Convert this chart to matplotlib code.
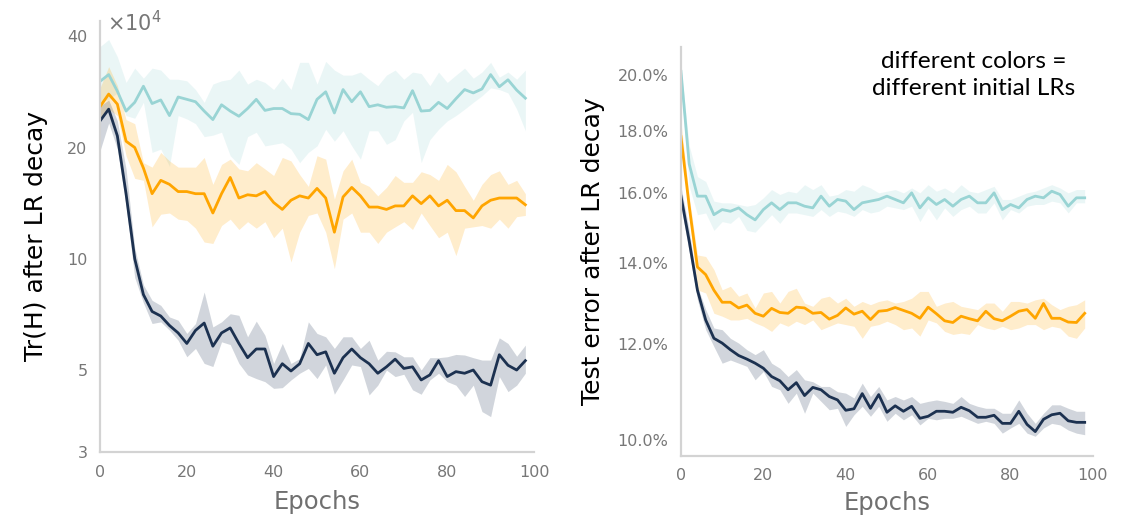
import numpy as np
import matplotlib
matplotlib.use("Agg")
import matplotlib.pyplot as plt
from matplotlib.ticker import FixedLocator, NullLocator

epochs = list(range(0, 100, 2))

# left panel: Tr(H) after LR decay (x1e4)
tr_cyan = [30.2, 31.5, 28.4, 25.1, 26.5, 29.3, 26.3, 26.9, 24.4, 27.4,
           27.0, 26.6, 25.1, 23.8, 26.1, 25.1, 24.3, 25.5, 27.0, 25.2,
           25.5, 25.5, 24.7, 24.6, 23.8, 27.0, 28.3, 24.8, 28.7, 26.6,
           28.3, 25.8, 26.1, 25.7, 25.8, 25.6, 28.5, 25.1, 25.2, 26.5,
           25.5, 27.1, 28.7, 28.1, 28.8, 31.5, 29.2, 30.5, 28.6, 27.2]
tr_cyan_hi = [37.5, 39.2, 35.2, 30.0, 32.8, 30.8, 32.8, 32.4, 30.6, 30.6,
              30.3, 28.7, 26.5, 29.7, 30.3, 30.6, 32.4, 29.7, 30.6, 30.0,
              28.7, 30.8, 28.7, 34.0, 34.0, 29.7, 34.2, 32.4, 31.4, 31.4,
              32.0, 30.6, 29.4, 31.4, 32.4, 30.6, 32.0, 31.7, 29.4, 32.0,
              30.0, 31.4, 32.8, 30.8, 32.0, 34.0, 31.0, 32.0, 30.6, 32.4]
tr_cyan_lo = [26.5, 27.0, 28.1, 24.4, 24.0, 26.5, 19.4, 19.8, 17.8, 24.4,
              23.9, 23.2, 21.4, 21.6, 22.0, 19.0, 18.0, 21.4, 22.0, 20.2,
              20.4, 20.6, 19.8, 18.2, 19.4, 20.2, 22.4, 20.8, 22.2, 20.2,
              18.6, 22.2, 22.2, 20.4, 21.0, 23.6, 24.9, 18.2, 21.0, 22.4,
              23.6, 24.4, 25.4, 26.5, 27.6, 29.0, 28.7, 28.1, 25.4, 22.2]

tr_orange = [25.8, 27.9, 26.2, 20.8, 20.0, 17.6, 15.0, 16.3, 15.9, 15.2,
             15.2, 15.0, 15.0, 13.3, 15.0, 16.6, 14.6, 14.9, 14.8, 15.2,
             14.2, 13.6, 14.4, 14.8, 14.6, 15.5, 14.6, 11.8, 14.7, 15.6,
             14.8, 13.8, 13.8, 13.6, 13.9, 13.9, 14.8, 14.1, 14.8, 13.9,
             14.4, 13.5, 13.5, 12.9, 13.9, 14.4, 14.6, 14.6, 14.6, 14.0]
tr_orange_hi = [29.0, 33.1, 29.4, 23.8, 23.2, 18.2, 17.7, 19.4, 18.4, 17.7,
                17.7, 17.7, 18.8, 15.9, 18.0, 18.6, 17.5, 17.3, 18.2, 17.5,
                16.8, 18.8, 18.4, 16.9, 15.7, 19.0, 18.6, 14.5, 17.3, 18.6,
                16.1, 15.7, 14.8, 15.6, 16.8, 16.1, 16.1, 17.2, 16.9, 16.3,
                18.0, 17.2, 15.7, 14.4, 15.9, 16.9, 17.3, 15.9, 16.3, 15.0]
tr_orange_lo = [23.8, 25.4, 24.4, 19.0, 16.5, 16.3, 12.2, 13.2, 13.3, 12.8,
                12.7, 12.1, 11.1, 11.0, 12.3, 12.8, 12.0, 12.6, 12.1, 12.6,
                11.4, 12.1, 9.8, 11.8, 13.1, 13.3, 11.8, 9.4, 12.8, 13.3,
                11.8, 11.8, 11.0, 11.8, 12.2, 12.6, 12.0, 13.3, 12.3, 11.4,
                11.8, 10.2, 12.1, 12.2, 12.3, 12.1, 12.8, 12.1, 13.0, 13.1]

tr_navy = [23.6, 25.4, 21.5, 15.0, 10.0, 8.0, 7.2, 7.0, 6.6, 6.3,
           5.9, 6.4, 6.7, 5.8, 6.3, 6.5, 5.9, 5.4, 5.7, 5.7,
           4.8, 5.2, 4.97, 5.2, 5.9, 5.5, 5.6, 4.9, 5.4, 5.7,
           5.4, 5.2, 4.9, 5.1, 5.35, 5.05, 5.1, 4.7, 4.85, 5.3,
           4.8, 4.95, 4.9, 5.0, 4.65, 4.55, 5.5, 5.15, 5.0, 5.3]
tr_navy_hi = [25.9, 26.9, 23.6, 17.5, 10.7, 8.5, 7.72, 7.48, 6.96, 6.82,
              6.28, 6.68, 8.13, 6.54, 6.75, 7.10, 7.03, 6.15, 6.78, 6.21,
              5.21, 5.90, 5.21, 5.37, 6.75, 6.28, 6.15, 5.72, 6.15, 6.15,
              5.72, 6.02, 5.32, 5.62, 5.60, 5.43, 5.43, 5.00, 5.40, 5.40,
              5.43, 5.51, 5.49, 5.40, 5.32, 5.32, 6.11, 5.90, 5.45, 5.84]
tr_navy_lo = [19.6, 23.3, 19.8, 13.9, 8.9, 7.6, 6.68, 6.75, 6.41, 6.02,
              5.43, 5.72, 5.21, 5.11, 5.96, 5.86, 5.21, 4.85, 4.74, 4.65,
              4.46, 4.48, 4.70, 4.90, 5.05, 4.74, 5.16, 4.30, 4.70, 5.16,
              5.11, 4.28, 4.55, 5.00, 4.80, 4.87, 4.42, 4.30, 4.70, 4.90,
              4.65, 4.55, 4.24, 4.55, 3.86, 3.74, 4.80, 4.37, 4.55, 4.90]

# right panel: test error (%) after LR decay
err_cyan = [20.15, 16.9, 15.9, 15.9, 15.35, 15.5, 15.45, 15.55, 15.35, 15.2,
            15.5, 15.7, 15.5, 15.7, 15.7, 15.6, 15.55, 15.9, 15.6, 15.8,
            15.75, 15.5, 15.7, 15.75, 15.8, 15.9, 15.8, 15.7, 16.0, 15.55,
            15.85, 15.65, 15.8, 15.6, 15.8, 15.9, 15.7, 15.7, 16.0, 15.5,
            15.65, 15.55, 15.8, 15.9, 15.85, 16.05, 15.95, 15.6, 15.85, 15.85]
err_cyan_hi = [20.3, 17.5, 16.5, 16.35, 15.75, 15.7, 15.7, 15.65, 15.6, 15.65,
               15.85, 16.1, 15.95, 16.05, 16.0, 16.25, 16.1, 16.25, 15.9, 15.95,
               16.1, 16.05, 16.25, 16.15, 16.0, 16.05, 16.1, 16.0, 16.15, 16.0,
               16.25, 16.05, 16.15, 16.0, 16.25, 16.05, 16.0, 16.1, 16.2, 15.8,
               15.8, 15.9, 16.0, 16.05, 16.15, 16.25, 16.15, 16.0, 16.1, 16.1]
err_cyan_lo = [19.6, 16.2, 15.35, 15.4, 14.9, 15.15, 15.1, 15.3, 14.9, 14.85,
               15.1, 15.35, 15.1, 15.4, 15.4, 15.35, 15.3, 15.5, 15.3, 15.45,
               15.4, 15.3, 15.5, 15.4, 15.45, 15.6, 15.55, 15.5, 15.6, 15.15,
               15.55, 15.2, 15.55, 15.3, 15.5, 15.6, 15.4, 15.4, 15.7, 15.2,
               15.5, 15.4, 15.6, 15.65, 15.65, 15.75, 15.7, 15.4, 15.7, 15.7]

err_orange = [17.8, 15.6, 13.9, 13.7, 13.3, 13.0, 13.0, 12.86, 12.93, 12.73,
              12.66, 12.85, 12.75, 12.73, 12.88, 12.86, 12.73, 12.75, 12.59, 12.68,
              12.86, 12.71, 12.78, 12.58, 12.78, 12.80, 12.87, 12.80, 12.73, 12.61,
              12.88, 12.72, 12.55, 12.51, 12.66, 12.60, 12.55, 12.78, 12.60, 12.55,
              12.66, 12.78, 12.82, 12.61, 12.97, 12.61, 12.61, 12.52, 12.51, 12.73]
err_orange_hi = [18.3, 15.9, 14.22, 14.18, 13.83, 13.31, 13.40, 13.15, 13.23, 12.86,
                 13.23, 13.27, 12.98, 13.27, 13.35, 12.98, 12.90, 13.10, 13.15, 12.98,
                 13.10, 12.90, 13.02, 12.94, 13.02, 13.06, 12.98, 13.02, 13.10, 13.27,
                 13.27, 12.90, 12.98, 13.02, 12.90, 12.86, 12.82, 12.98, 12.98, 12.78,
                 13.02, 13.02, 12.98, 13.06, 13.10, 12.94, 12.82, 12.90, 12.94, 13.06]
err_orange_lo = [17.5, 15.3, 13.31, 13.23, 12.73, 12.66, 12.57, 12.57, 12.61, 12.50,
                 12.42, 12.30, 12.50, 12.42, 12.54, 12.46, 12.57, 12.34, 12.42, 12.50,
                 12.46, 12.42, 12.14, 12.42, 12.46, 12.54, 12.46, 12.34, 12.38, 12.19,
                 12.57, 12.50, 12.30, 12.23, 12.26, 12.23, 12.46, 12.38, 12.34, 12.42,
                 12.34, 12.38, 12.46, 12.46, 12.34, 12.42, 12.38, 12.19, 12.14, 12.38]

err_navy = [15.9, 14.6, 13.3, 12.57, 12.14, 12.03, 11.88, 11.75, 11.67, 11.58,
            11.47, 11.29, 11.20, 11.01, 11.16, 10.89, 11.06, 11.01, 10.87, 10.80,
            10.59, 10.62, 10.93, 10.63, 10.91, 10.55, 10.68, 10.57, 10.67, 10.43,
            10.47, 10.57, 10.57, 10.55, 10.65, 10.58, 10.45, 10.45, 10.49, 10.33,
            10.33, 10.57, 10.31, 10.17, 10.41, 10.50, 10.53, 10.38, 10.35, 10.35]
err_navy_hi = [16.2, 14.9, 13.40, 12.82, 12.38, 12.34, 12.14, 12.03, 11.88, 11.77,
               11.88, 11.58, 11.47, 11.29, 11.44, 11.22, 11.18, 11.08, 11.08, 10.97,
               10.94, 10.84, 11.15, 10.87, 11.08, 10.80, 10.87, 10.80, 10.87, 10.73,
               10.77, 10.80, 10.77, 10.73, 10.87, 10.73, 10.67, 10.63, 10.63, 10.53,
               10.53, 10.80, 10.53, 10.33, 10.53, 10.70, 10.70, 10.63, 10.57, 10.57]
err_navy_lo = [15.6, 14.3, 13.06, 12.34, 11.95, 11.58, 11.65, 11.58, 11.51, 11.22,
               11.40, 11.08, 11.01, 10.73, 10.94, 10.53, 10.94, 10.77, 10.60, 10.63,
               10.27, 10.50, 10.67, 10.47, 10.67, 10.37, 10.53, 10.40, 10.50, 10.30,
               10.43, 10.40, 10.43, 10.43, 10.47, 10.40, 10.33, 10.37, 10.33, 10.14,
               10.24, 10.33, 10.14, 10.08, 10.24, 10.33, 10.30, 10.20, 10.14, 10.11]

colors = ['#99d4d4', '#ffa500', '#1c3150']
tick_grey = '#777777'
spine_grey = '#d3d3d3'


def style_axes(ax, xpad):
    for side in ['top', 'right']:
        ax.spines[side].set_visible(False)
    for side in ['left', 'bottom']:
        ax.spines[side].set_color(spine_grey)
        ax.spines[side].set_linewidth(1.6)
    ax.tick_params(length=0, labelsize=11.5, labelcolor=tick_grey, pad=9)
    ax.set_xlim(0, 100)
    ax.set_xticks([0, 20, 40, 60, 80, 100])
    ax.set_xlabel('Epochs', fontsize=17.5, color='#707070', labelpad=xpad)


def draw(ax, series):
    for (mid, lo, hi), c in zip(series, colors):
        ax.fill_between(epochs, lo, hi, color=c, alpha=0.2, lw=0)
        ax.plot(epochs, mid, color=c, lw=2)


fig = plt.figure(figsize=(11.25, 5.15), dpi=100)
ax1 = fig.add_axes([0.0889, 0.1223, 0.3858, 0.837])
ax2 = fig.add_axes([0.6053, 0.1146, 0.3662, 0.794])

draw(ax1, [(tr_cyan, tr_cyan_lo, tr_cyan_hi),
           (tr_orange, tr_orange_lo, tr_orange_hi),
           (tr_navy, tr_navy_lo, tr_navy_hi)])
ax1.set_yscale('log')
ax1.set_ylim(3, 44)
ax1.yaxis.set_major_locator(FixedLocator([3, 5, 10, 20, 40]))
ax1.yaxis.set_minor_locator(NullLocator())
ax1.set_yticklabels(['3', '5', '10', '20', '40'])
style_axes(ax1, 7.5)
ax1.set_ylabel('Tr(H) after LR decay', fontsize=18, color='black', labelpad=14)
fig.text(107 / 1125, 1 - 23 / 515, r'$\times10^4$', fontsize=15,
         color=tick_grey, va='center', ha='left')

draw(ax2, [(err_cyan, err_cyan_lo, err_cyan_hi),
           (err_orange, err_orange_lo, err_orange_hi),
           (err_navy, err_navy_lo, err_navy_hi)])
ax2.set_yscale('log')
ax2.set_ylim(9.71, 21.1)
err_ticks = [10, 12, 14, 16, 18, 20]
ax2.yaxis.set_major_locator(FixedLocator(err_ticks))
ax2.yaxis.set_minor_locator(NullLocator())
ax2.set_yticklabels(['%.1f%%' % t for t in err_ticks])
style_axes(ax2, 5.5)
ax2.set_ylabel('Test error after LR decay', fontsize=18, color='black', labelpad=9)

fig.text(974 / 1125, 1 - 75 / 515, 'different colors =\ndifferent initial LRs',
         fontsize=17.6, family=['Lato', 'DejaVu Sans'], ha='center', va='center',
         linespacing=1.3)

fig.savefig('out.png', dpi=100)
